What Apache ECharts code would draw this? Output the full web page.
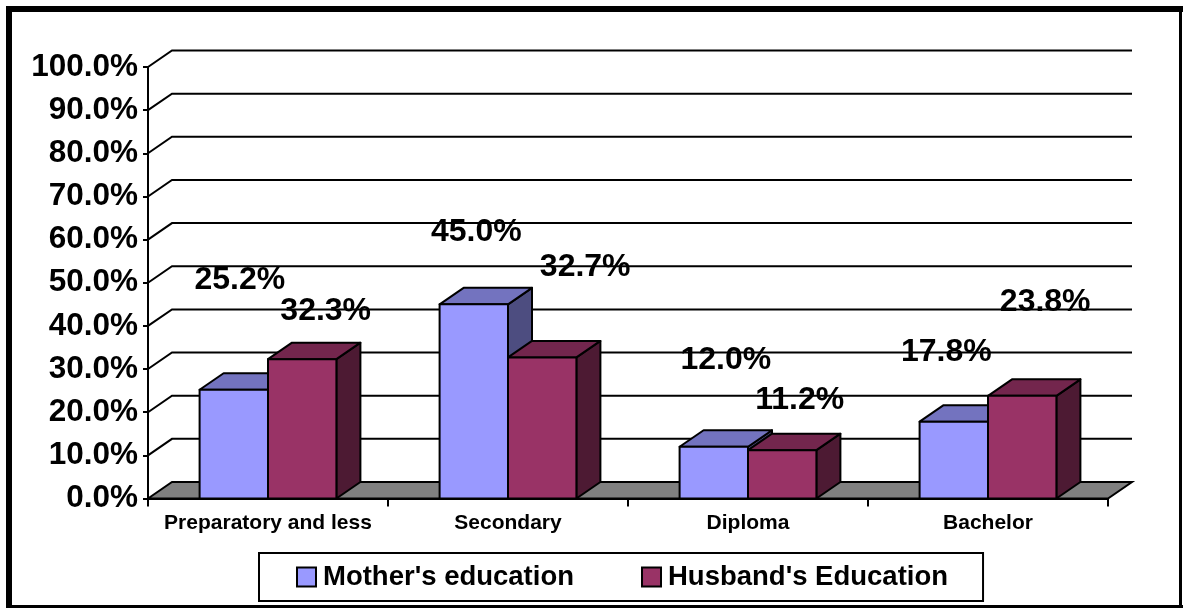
<!DOCTYPE html>
<html>
<head>
<meta charset="utf-8">
<script src="https://cdn.jsdelivr.net/npm/echarts@6/dist/echarts.min.js"></script>
<style>
html,body{margin:0;padding:0;background:#fff;}
#chart{width:1184px;height:608px;}
</style>
</head>
<body>
<div id="chart"></div>
<script>
// ---- data ----
const categories = ['Preparatory and less', 'Secondary', 'Diploma', 'Bachelor'];
const motherEdu = [25.2, 45.0, 12.0, 17.8];
const husbandEdu = [32.3, 32.7, 11.2, 23.8];
const yTicks = [0, 10, 20, 30, 40, 50, 60, 70, 80, 90, 100];
const seriesNames = ["Mother's education", "Husband's Education"];

// ---- styling ----
const FONT = "'Liberation Sans', Arial, sans-serif";
const DEPTH = [24, -16.5];
const COLORS = [
  { front: '#9999FF', top: '#7373BF', side: '#4D4D80' },
  { front: '#993366', top: '#73264D', side: '#4D1A33' }
];
// label shift (px) from front-top centre of each bar, mimicking original placement
const LABEL_SHIFT = [
  [[6, -110], [2.5, -72], [12, -87], [-7.5, -70]],
  [[23.5, -48], [43, -90], [17.5, -50], [23, -94]]
];

const chart = echarts.init(document.getElementById('chart'), null, { renderer: 'canvas' });

function wallRender(params, api) {
  const cs = params.coordSys;
  const v = api.value(1);
  const y = api.coord([0, v])[1];
  const x0 = cs.x, x1 = cs.x + cs.width;
  const dx = DEPTH[0], dy = DEPTH[1];
  if (v === 0) {
    return {
      type: 'polygon',
      shape: { points: [[x0, y], [x0 + dx, y + dy], [x1 + dx, y + dy], [x1, y]] },
      style: { fill: '#808080', stroke: '#000', lineWidth: 2 }
    };
  }
  return {
    type: 'polyline',
    shape: { points: [[x0, y], [x0 + dx, y + dy], [x1 + dx, y + dy]] },
    style: { fill: null, stroke: '#000', lineWidth: 2 }
  };
}

function barRender(sIdx) {
  return function (params, api) {
    const ci = api.value(0);
    const val = api.value(1);
    const top = api.coord([ci, val]);
    const base = api.coord([ci, 0]);
    const catW = api.size([1, 0])[0];
    const bw = catW * 0.285;
    const xl = sIdx === 0 ? top[0] - bw : top[0];
    const xr = xl + bw;
    const yt = top[1], yb = base[1];
    const dx = DEPTH[0], dy = DEPTH[1];
    const c = COLORS[sIdx];
    const stroke = { stroke: '#000', lineWidth: 2, lineJoin: 'round' };
    const sh = LABEL_SHIFT[sIdx][ci];
    return {
      type: 'group',
      children: [
        { type: 'polygon', shape: { points: [[xr, yb], [xr + dx, yb + dy], [xr + dx, yt + dy], [xr, yt]] },
          style: Object.assign({ fill: c.side }, stroke) },
        { type: 'polygon', shape: { points: [[xl, yt], [xl + dx, yt + dy], [xr + dx, yt + dy], [xr, yt]] },
          style: Object.assign({ fill: c.top }, stroke) },
        { type: 'rect', shape: { x: xl, y: yt, width: bw, height: yb - yt },
          style: Object.assign({ fill: c.front }, stroke) },
        { type: 'text', z2: 50,
          style: { text: val.toFixed(1) + '%', x: (xl + xr) / 2 + sh[0], y: yt + sh[1],
                   align: 'center', verticalAlign: 'middle',
                   font: 'bold 32px ' + FONT, fill: '#000' } }
      ]
    };
  };
}

const option = {
  animation: false,
  backgroundColor: '#fff',
  grid: { left: 148, right: 76, top: 67, bottom: 109.5, containLabel: false },
  xAxis: {
    type: 'category',
    data: categories,
    axisLine: { show: true, lineStyle: { color: '#000', width: 2 } },
    axisTick: { show: true, length: 8, lineStyle: { color: '#000', width: 2 } },
    axisLabel: { color: '#000', fontFamily: FONT, fontWeight: 'bold', fontSize: 21, margin: 14, interval: 0 },
    splitLine: { show: false }
  },
  yAxis: {
    type: 'value',
    min: 0, max: 100, interval: 10,
    axisLine: { show: true, lineStyle: { color: '#000', width: 2 } },
    axisTick: { show: true, length: 5, lineStyle: { color: '#000', width: 2 } },
    axisLabel: { color: '#000', fontFamily: FONT, fontWeight: 'bold', fontSize: 31.5, margin: 10,
                 formatter: function (v) { return v.toFixed(1) + '%'; } },
    splitLine: { show: false }
  },
  legend: {
    left: 259, top: 553,
    orient: 'horizontal',
    borderColor: '#000', borderWidth: 2,
    padding: [10, 35, 10, 37],
    itemWidth: 19, itemHeight: 19, itemGap: 67,
    textStyle: { color: '#000', fontFamily: FONT, fontWeight: 'bold', fontSize: 27.5, lineHeight: 28, padding: [0, 0, 0, 2] },
    data: [
      { name: seriesNames[0], icon: 'rect', itemStyle: { color: COLORS[0].front, borderColor: '#000', borderWidth: 2 } },
      { name: seriesNames[1], icon: 'rect', itemStyle: { color: COLORS[1].front, borderColor: '#000', borderWidth: 2 } }
    ]
  },
  graphic: [
    { type: 'line', shape: { x1: 9, y1: 6, x2: 9, y2: 608 }, style: { stroke: '#000', lineWidth: 6 } },
    { type: 'line', shape: { x1: 6, y1: 9, x2: 1183, y2: 9 }, style: { stroke: '#000', lineWidth: 6 } },
    { type: 'line', shape: { x1: 1180.5, y1: 6, x2: 1180.5, y2: 608 }, style: { stroke: '#000', lineWidth: 3 } },
    { type: 'line', shape: { x1: 6, y1: 606.5, x2: 1183, y2: 606.5 }, style: { stroke: '#000', lineWidth: 3 } }
  ],
  series: [
    {
      type: 'custom', name: 'walls', z: 1, silent: true,
      renderItem: wallRender,
      encode: { x: 0, y: 1 },
      data: yTicks.map(function (t) { return [0, t]; })
    },
    {
      type: 'custom', name: seriesNames[0], z: 3,
      itemStyle: { color: COLORS[0].front },
      renderItem: barRender(0),
      encode: { x: 0, y: 1 },
      data: motherEdu.map(function (v, i) { return [i, v]; })
    },
    {
      type: 'custom', name: seriesNames[1], z: 4,
      itemStyle: { color: COLORS[1].front },
      renderItem: barRender(1),
      encode: { x: 0, y: 1 },
      data: husbandEdu.map(function (v, i) { return [i, v]; })
    }
  ]
};
chart.setOption(option);
</script>
</body>
</html>
